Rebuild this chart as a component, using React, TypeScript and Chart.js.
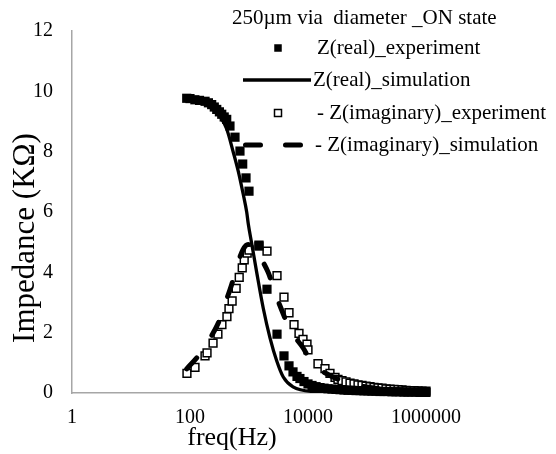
import React, { useEffect, useRef } from "react";
import { Chart, registerables } from "chart.js";

Chart.register(...registerables);

// ---- data ----
const realExpFreq = [88, 100, 121, 145, 180, 205, 233, 258, 284, 315, 345, 380, 419, 476, 579, 703, 782, 890, 1000, 1476, 2018, 2985, 3918, 4764, 5570, 6510, 7300, 8550, 10000, 11700, 13700, 16000, 18700, 21800, 25500, 29800, 34900, 40800, 47700, 55700, 65200, 76200, 89000, 104000, 121500, 142100, 166100, 194200, 227000, 265400, 310300, 362700, 424000, 495700, 579500, 677500, 792000, 925900, 1000000];
const realExpZ = [9.77, 9.76, 9.72, 9.7, 9.67, 9.62, 9.56, 9.48, 9.4, 9.32, 9.24, 9.15, 9.07, 8.85, 8.48, 8.02, 7.59, 7.13, 6.69, 4.87, 3.44, 1.95, 1.23, 0.9, 0.7, 0.55, 0.48, 0.38, 0.3, 0.25, 0.21, 0.18, 0.16, 0.14, 0.13, 0.12, 0.11, 0.1, 0.09, 0.09, 0.08, 0.08, 0.07, 0.07, 0.06, 0.06, 0.05, 0.05, 0.05, 0.04, 0.04, 0.04, 0.03, 0.03, 0.03, 0.03, 0.02, 0.02, 0.02];

const realSimFreq = [88, 120, 160, 200, 250, 322, 419, 540, 660, 800, 914, 973, 1110, 1353, 1748, 2268, 2946, 3810, 5570, 12170, 100000, 1000000];
const realSimZ = [9.8, 9.77, 9.7, 9.6, 9.45, 9.18, 8.75, 7.99, 7.34, 6.58, 6.0, 5.6, 4.96, 3.99, 2.8, 1.83, 1.07, 0.53, 0.2, 0.05, 0.01, 0.0];

const imagExpFreq = [88.8, 121.5, 179.7, 194.4, 245.9, 297.3, 347.6, 422.7, 457.5, 517.5, 605.2, 682.6, 767.8, 829.7, 931.2, 1000, 1476, 2018, 2985, 3918, 4764, 5795, 7035, 8226, 9618, 10000, 14760, 19400, 23580, 28700, 32200, 37690, 44070, 51520, 60230, 70410, 82310, 96180, 112400, 131400, 153600, 179600, 209900, 245400, 286900, 335400, 392000, 458200, 535600, 626100, 731900, 855500, 1000000];
const imagExpZ = [0.65, 0.85, 1.23, 1.33, 1.65, 1.95, 2.27, 2.53, 2.8, 3.05, 3.47, 3.83, 4.15, 4.41, 4.64, 4.74, 4.9, 4.7, 3.89, 3.18, 2.66, 2.27, 1.98, 1.78, 1.62, 1.43, 0.97, 0.81, 0.65, 0.52, 0.45, 0.41, 0.37, 0.33, 0.3, 0.27, 0.25, 0.23, 0.21, 0.19, 0.17, 0.16, 0.14, 0.13, 0.12, 0.11, 0.1, 0.09, 0.08, 0.08, 0.07, 0.06, 0.06];

const imagSimFreq = [88, 148, 233, 322, 392, 509, 659, 791, 962, 1169, 1642, 2123, 2943, 3581, 4955, 8226, 11690, 23580, 51500, 112400, 362500, 1000000];
const imagSimZ = [0.8, 1.3, 1.9, 2.45, 2.95, 3.6, 4.35, 4.75, 4.92, 4.9, 4.42, 3.99, 3.18, 2.75, 2.1, 1.5, 1.0, 0.58, 0.32, 0.18, 0.08, 0.03];

const xTickValues = [1, 100, 10000, 1000000];
const yTickValues = [0, 2, 4, 6, 8, 10, 12];

const chartTitle = "250µm via  diameter _ON state";
const legendLabels = [
  "Z(real)_experiment",
  "Z(real)_simulation",
  "- Z(imaginary)_experiment",
  "- Z(imaginary)_simulation",
];
const xTitle = "freq(Hz)";
const yTitle = "Impedance (KΩ)";

const FONT = '"Liberation Serif", "Times New Roman", serif';

const toPoints = (fs: number[], vs: number[]) => fs.map((f, i) => ({ x: f, y: vs[i] }));

const overlayPlugin = {
  id: "overlay",
  afterDraw(chart: any) {
    const ctx = chart.ctx as CanvasRenderingContext2D;
    ctx.save();
    ctx.fillStyle = "#000";
    ctx.strokeStyle = "#000";
    ctx.textBaseline = "middle";

    // title
    ctx.font = `21px ${FONT}`;
    ctx.textAlign = "left";
    ctx.fillText(chartTitle, 232, 18);

    // legend
    const rows = [48, 80, 113, 145];
    const textX = [317, 313, 317, 315];
    // 1 filled square
    ctx.fillRect(278 - 3.75, rows[0] - 3.75, 7.5, 7.5);
    // 2 solid line
    ctx.lineWidth = 3.3;
    ctx.beginPath();
    ctx.moveTo(243, rows[1]);
    ctx.lineTo(311, rows[1]);
    ctx.stroke();
    // 3 open square
    ctx.fillStyle = "#fff";
    ctx.fillRect(278 - 3.5, rows[2] - 3.5, 7, 7);
    ctx.lineWidth = 1.5;
    ctx.strokeRect(278 - 3.5, rows[2] - 3.5, 7, 7);
    ctx.fillStyle = "#000";
    // 4 dashed line
    ctx.lineWidth = 5;
    ctx.lineCap = "round";
    ctx.beginPath();
    ctx.moveTo(245.5, rows[3]);
    ctx.lineTo(260.5, rows[3]);
    ctx.moveTo(285.5, rows[3]);
    ctx.lineTo(300.5, rows[3]);
    ctx.stroke();

    ctx.font = `21px ${FONT}`;
    legendLabels.forEach((t, i) => {
      ctx.fillText(t, textX[i], rows[i]);
    });

    // axis titles
    ctx.textAlign = "center";
    ctx.font = `26px ${FONT}`;
    ctx.fillText(xTitle, 232, 438);

    ctx.save();
    ctx.translate(26, 238);
    ctx.rotate(-Math.PI / 2);
    ctx.font = `31px ${FONT}`;
    ctx.fillText(yTitle, 0, 0);
    ctx.restore();

    ctx.restore();
  },
};

export default function App() {
  const canvasRef = useRef<HTMLCanvasElement | null>(null);

  useEffect(() => {
    const canvas = canvasRef.current;
    if (!canvas) return;
    const tickFont = { family: FONT, size: 20 };
    const chart = new Chart(canvas, {
      type: "line",
      data: {
        datasets: [
          {
            label: legendLabels[0],
            data: toPoints(realExpFreq, realExpZ),
            showLine: false,
            pointStyle: "rect",
            pointRadius: 6.5,
            pointBackgroundColor: "#000",
            pointBorderWidth: 0,
            borderColor: "#000",
            backgroundColor: "#000",
            clip: 10,
            order: 3,
          },
          {
            label: legendLabels[1],
            data: toPoints(realSimFreq, realSimZ),
            showLine: true,
            pointRadius: 0,
            borderColor: "#000",
            borderWidth: 3.3,
            cubicInterpolationMode: "monotone",
            fill: false,
            order: 2,
          },
          {
            label: legendLabels[2],
            data: toPoints(imagExpFreq, imagExpZ),
            showLine: false,
            pointStyle: "rect",
            pointRadius: 5.5,
            pointBackgroundColor: "#fff",
            pointBorderColor: "#000",
            pointBorderWidth: 1.5,
            borderColor: "#000",
            backgroundColor: "#fff",
            clip: 10,
            order: 4,
          },
          {
            label: legendLabels[3],
            data: toPoints(imagSimFreq, imagSimZ),
            showLine: true,
            pointRadius: 0,
            borderColor: "#000",
            borderWidth: 5,
            borderDash: [15, 27],
            borderCapStyle: "round",
            cubicInterpolationMode: "monotone",
            fill: false,
            order: 1,
          },
        ],
      },
      options: {
        responsive: false,
        animation: false,
        events: [],
        layout: { padding: { left: 0, right: 130, top: 23, bottom: 0 } },
        plugins: { legend: { display: false }, tooltip: { enabled: false }, title: { display: false } },
        scales: {
          x: {
            type: "logarithmic",
            min: 1,
            max: 1000000,
            afterBuildTicks: (s: any) => {
              s.ticks = xTickValues.map((v) => ({ value: v }));
            },
            afterFit: (s: any) => {
              s.height = 61;
            },
            grid: { display: false, drawTicks: false },
            border: { display: true, color: "#a6a6a6", width: 1.5 },
            ticks: {
              font: tickFont,
              color: "#000",
              padding: 13,
              maxRotation: 0,
              autoSkip: false,
              callback: (v: any) => String(v),
            },
          },
          y: {
            type: "linear",
            min: 0,
            max: 12,
            afterBuildTicks: (s: any) => {
              s.ticks = yTickValues.map((v) => ({ value: v }));
            },
            afterFit: (s: any) => {
              s.width = 72;
            },
            grid: { display: false, drawTicks: false },
            border: { display: true, color: "#a6a6a6", width: 1.5 },
            ticks: {
              font: tickFont,
              color: "#000",
              padding: 19,
              callback: (v: any) => String(v),
            },
          },
        },
      },
      plugins: [overlayPlugin],
    } as any);
    return () => chart.destroy();
  }, []);

  return (
    <div style={{ position: "absolute", left: 0, top: 0, width: 556, height: 454, background: "#fff" }}>
      <canvas ref={canvasRef} width={556} height={454} style={{ display: "block", width: 556, height: 454 }} />
    </div>
  );
}
